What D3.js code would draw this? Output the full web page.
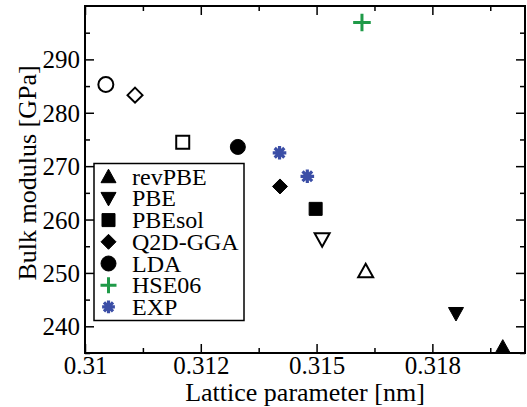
<!DOCTYPE html>
<html>
<head>
<meta charset="utf-8">
<script src="https://cdn.jsdelivr.net/npm/d3@7"></script>
<style>
  body { margin: 0; background: #fff; }
  svg { display: block; }
  svg text { font-family: "Liberation Serif", "Times New Roman", Tinos, "Nimbus Roman", "DejaVu Serif", serif; }
</style>
</head>
<body>
<div id="chart"></div>
<script>
// data
const methods = ["revPBE", "PBE", "PBEsol", "Q2D-GGA", "LDA", "HSE06", "EXP"];
// filled symbols (order: revPBE, PBE, PBEsol, Q2D-GGA, LDA)
const latticeFilled = [0.31902, 0.31801, 0.31498, 0.31421, 0.31330];
const bulkFilled = [236.1, 242.4, 262.0, 266.2, 273.6];
// open symbols (same order)
const latticeOpen = [0.31606, 0.31512, 0.31211, 0.31108, 0.31045];
const bulkOpen = [250.3, 256.3, 274.5, 283.3, 285.3];
const hseLattice = [0.31598];
const hseBulk = [296.9];
const expLattice = [0.31420, 0.31480];
const expBulk = [272.5, 268.1];

const xMajor = [0.31, 0.3125, 0.315, 0.3175];
const xTickLabels = ["0.31", "0.312", "0.315", "0.318"];
const yMajor = [240, 250, 260, 270, 280, 290];

const width = 527, height = 407;
const margin = {left: 85, right: 2, top: 6, bottom: 54};

const svg = d3.select("#chart").append("svg")
    .attr("width", width)
    .attr("height", height);

const x = d3.scaleLinear().domain([0.31, 0.3195]).range([margin.left, width - margin.right]);
const y = d3.scaleLinear().domain([235, 300]).range([height - margin.bottom, margin.top]);

const xMinor = d3.range(0.31, 0.3195, 0.00125).filter(v => !xMajor.some(m => Math.abs(m - v) < 1e-7));
const yMinor = d3.range(235, 300, 5).filter(v => v % 10 !== 0);

// axes with inward ticks
function drawAxis(axisFn, pos, major, minor, labels) {
    const scale = (axisFn === d3.axisBottom || axisFn === d3.axisTop) ? x : y;
    const gMaj = svg.append("g").attr("transform", pos)
        .call(axisFn(scale).tickValues(major).tickSize(-9)
            .tickFormat((d, i) => labels ? labels[i] : ""));
    svg.append("g").attr("transform", pos)
        .call(axisFn(scale).tickValues(minor).tickSize(-5).tickFormat(""));
    svg.selectAll(".domain").remove();
    return gMaj;
}

const gx = drawAxis(d3.axisBottom, `translate(0,${y.range()[0]})`, xMajor, xMinor, xTickLabels);
drawAxis(d3.axisTop, `translate(0,${y.range()[1]})`, xMajor, xMinor, null);
const gy = drawAxis(d3.axisLeft, `translate(${x.range()[0]},0)`, yMajor, yMinor, yMajor.map(String));
drawAxis(d3.axisRight, `translate(${x.range()[1]},0)`, yMajor, yMinor, null);

svg.selectAll("g").attr("font-family", null);
svg.selectAll(".tick line").attr("stroke", "#000").attr("stroke-width", 1.5);
svg.selectAll(".tick text").attr("fill", "#000").style("font-size", "25px");
gx.selectAll(".tick text").attr("y", 21).attr("dy", 0);
gy.selectAll(".tick text").attr("x", -5).attr("dy", "0.34em");

// frame
svg.append("rect")
    .attr("x", x.range()[0]).attr("y", y.range()[1])
    .attr("width", x.range()[1] - x.range()[0])
    .attr("height", y.range()[0] - y.range()[1])
    .attr("fill", "none").attr("stroke", "#000").attr("stroke-width", 2);

// axis titles
svg.append("text")
    .attr("x", (x.range()[0] + x.range()[1]) / 2)
    .attr("y", 401)
    .attr("text-anchor", "middle")
    .style("font-size", "26px")
    .text("Lattice parameter [nm]");

svg.append("text")
    .attr("transform", "translate(36,173) rotate(-90)")
    .attr("text-anchor", "middle")
    .style("font-size", "26px")
    .text("Bulk modulus [GPa]");

// symbol paths, centred on their bounding box
const shapes = {
    up: s => `M0,${-s}L${s},${s * 0.8}L${-s},${s * 0.8}Z`,
    down: s => `M0,${s}L${s},${-s * 0.8}L${-s},${-s * 0.8}Z`,
    square: s => `M${-s},${-s}H${s}V${s}H${-s}Z`,
    diamond: s => `M0,${-s}L${s},0L0,${s}L${-s},0Z`,
    circle: s => `M${s},0A${s},${s} 0 1,1 ${-s},0A${s},${s} 0 1,1 ${s},0Z`,
    plus: s => `M${-s},0H${s}M0,${-s}V${s}`,
    star: s => {
        const d = s * Math.SQRT1_2;
        return `M${-s},0H${s}M0,${-s}V${s}M${-d},${-d}L${d},${d}M${-d},${d}L${d},${-d}`;
    }
};
const shapeOrder = ["up", "down", "square", "diamond", "circle"];
const shapeSize = {up: 7.5, down: 7.5, square: 6.5, diamond: 7.5, circle: 7.5};

function drawMark(g, kind, cx, cy, filled, color, scale) {
    const k = scale || 1;
    const s = (shapeSize[kind] || 8) * k;
    const p = g.append("path")
        .attr("transform", `translate(${cx},${cy})`)
        .attr("d", shapes[kind](s));
    if (kind === "plus") {
        p.attr("fill", "none").attr("stroke", color).attr("stroke-width", 3);
    } else if (kind === "star") {
        p.attr("fill", "none").attr("stroke", color).attr("stroke-width", 3.2);
    } else if (filled) {
        p.attr("fill", color).attr("stroke", color).attr("stroke-width", 1);
    } else {
        p.attr("fill", "#fff").attr("stroke", color).attr("stroke-width", 2);
    }
}

const marks = svg.append("g");
latticeOpen.forEach((v, i) => drawMark(marks, shapeOrder[i], x(v), y(bulkOpen[i]), false, "#000"));
latticeFilled.forEach((v, i) => drawMark(marks, shapeOrder[i], x(v), y(bulkFilled[i]), true, "#000"));
hseLattice.forEach((v, i) => drawMark(marks, "plus", x(v), y(hseBulk[i]), false, "#1f9a48", 1.1));
expLattice.forEach((v, i) => drawMark(marks, "star", x(v), y(expBulk[i]), false, "#3b4ea6", 0.85));

// legend
const legend = svg.append("g");
legend.append("rect")
    .attr("x", 94).attr("y", 163.5)
    .attr("width", 150).attr("height", 157)
    .attr("fill", "#fff").attr("stroke", "#000").attr("stroke-width", 1.5);

const legendKinds = ["up", "down", "square", "diamond", "circle", "plus", "star"];
const legendColors = ["#000", "#000", "#000", "#000", "#000", "#1f9a48", "#3b4ea6"];
methods.forEach((name, i) => {
    const ly = 176.7 + i * 21.7;
    const sc = legendKinds[i] === "star" ? 0.8 : 1.0;
    drawMark(legend, legendKinds[i], 108.5, ly, true, legendColors[i], sc);
    legend.append("text")
        .attr("x", 132)
        .attr("y", ly + 8)
        .style("font-size", "24px")
        .text(name);
});
</script>
</body>
</html>
